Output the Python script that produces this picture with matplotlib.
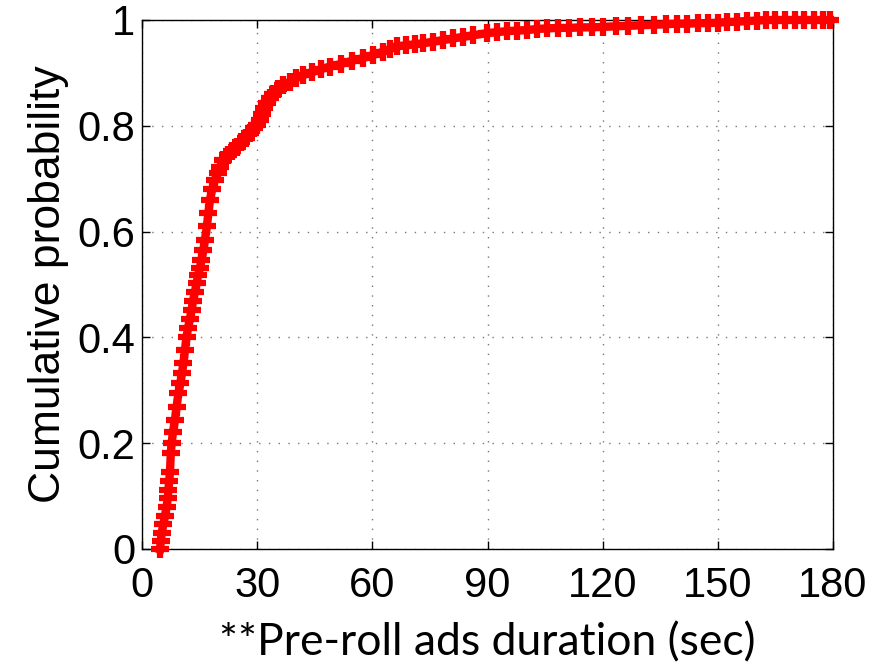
import matplotlib
matplotlib.use('Agg')
import matplotlib.pyplot as plt

# CDF of pre-roll ad durations
duration = [4.7, 4.9, 5.1, 5.6, 6.0, 6.4, 6.7, 6.9, 7.1, 7.3,
            7.5, 7.7, 8.1, 8.6, 9.0, 9.5, 10.0, 10.4, 10.8, 11.2,
            11.6, 12.0, 12.5, 12.9, 13.3, 13.8, 14.2, 14.6, 15.1, 15.5,
            16.0, 16.4, 16.9, 17.3, 17.7, 18.3, 19.0, 19.7, 20.4, 21.2,
            22.3, 23.5, 24.7, 25.8, 27.0, 28.1, 29.2, 30.0, 30.7, 31.3,
            31.9, 32.5, 33.3, 34.2, 35.4, 36.8, 38.5, 40.2, 42.0, 44.3,
            46.6, 49.0, 51.9, 54.8, 57.6, 60.2, 62.8, 64.6, 66.3, 68.7,
            71.0, 73.3, 75.9, 78.5, 81.0, 83.6, 86.2, 89.8, 92.5, 95.2,
            97.8, 100.4, 103.0, 105.4, 108.3, 111.3, 114.2, 117.2, 120.1, 123.4,
            126.7, 130.0, 133.3, 136.6, 139.3, 142.0, 144.7, 147.4, 150.0, 152.5,
            155.0, 157.6, 160.1, 162.6, 165.0, 167.5, 170.0, 172.5, 175.0, 177.5,
            179.2]
cdf = [0.0, 0.015, 0.030, 0.047, 0.063, 0.080, 0.096, 0.112, 0.129, 0.146,
       0.181, 0.200, 0.222, 0.244, 0.269, 0.294, 0.313, 0.332, 0.351, 0.376,
       0.401, 0.418, 0.435, 0.452, 0.469, 0.486, 0.502, 0.517, 0.531, 0.546,
       0.565, 0.584, 0.610, 0.635, 0.660, 0.680, 0.698, 0.711, 0.723, 0.735,
       0.744, 0.752, 0.760, 0.769, 0.777, 0.786, 0.795, 0.802, 0.811, 0.822,
       0.833, 0.843, 0.852, 0.861, 0.869, 0.877, 0.883, 0.890, 0.896, 0.901,
       0.907, 0.912, 0.917, 0.923, 0.928, 0.934, 0.940, 0.945, 0.950, 0.952,
       0.954, 0.956, 0.959, 0.962, 0.965, 0.968, 0.971, 0.975, 0.977, 0.979,
       0.980, 0.981, 0.983, 0.984, 0.985, 0.985, 0.986, 0.986, 0.987, 0.988,
       0.989, 0.990, 0.991, 0.992, 0.993, 0.993, 0.994, 0.994, 0.995, 0.996,
       0.997, 0.998, 0.999, 1.0, 1.0, 1.0, 1.0, 1.0, 1.0, 1.0,
       1.0]

xticks = [0, 30, 60, 90, 120, 150, 180]
yticks = [0, 0.2, 0.4, 0.6, 0.8, 1]
yticklabels = ['0', '0.2', '0.4', '0.6', '0.8', '1']

fig = plt.figure(figsize=(8.83, 6.66), dpi=100)
ax = fig.add_axes([0.1608, 0.1757, 0.7826, 0.7943])

ax.plot(duration, cdf, color='red', linestyle='-', linewidth=6,
        marker='+', markersize=13, markeredgewidth=4.5, clip_on=False, zorder=3)

ax.set_xlim(0, 180)
ax.set_ylim(0, 1)
ax.set_xticks(xticks)
ax.set_yticks(yticks)
ax.set_yticklabels(yticklabels)
ax.grid(True, linestyle=(0, (1, 6)), color='#777777', linewidth=1)
ax.tick_params(direction='in', top=True, right=True, length=6, width=1,
               labelsize=30)
ax.tick_params(axis='x', pad=12)
ax.tick_params(axis='y', pad=5)
for lab in ax.get_xticklabels() + ax.get_yticklabels():
    lab.set_fontfamily('Liberation Sans')
for sp in ax.spines.values():
    sp.set_linewidth(1)

ax.set_ylabel('Cumulative probability', fontsize=32, family='Liberation Sans', labelpad=6)
ax.set_xlabel('**Pre-roll ads duration (sec)', fontsize=32, family='Lato', labelpad=12)

fig.savefig('out.png', dpi=100)
